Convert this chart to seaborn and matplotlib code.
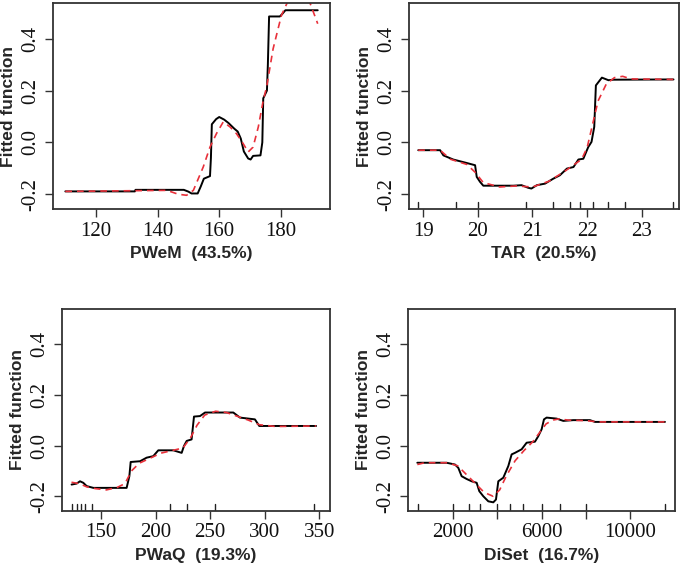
import matplotlib
matplotlib.use('Agg')
import matplotlib.pyplot as plt
import pandas as pd
import seaborn as sns

# Panel titles (variable and relative influence)
labels = ['PWeM  (43.5%)', 'TAR  (20.5%)', 'PWaQ  (19.3%)', 'DiSet  (16.7%)']

# PWeM
pwem_x = [110, 132.6, 132.8, 148.5, 150, 151, 153, 154, 155, 157, 157.3, 157.6, 159, 160, 161.6, 163,
          164.9, 166, 167, 168, 169.4, 170.2, 171, 173.4, 174, 174.3, 175.5, 175.8, 176.2, 179.7, 180.5,
          181.5, 192]
pwem_y = [-0.189, -0.189, -0.183, -0.183, -0.19, -0.197, -0.197, -0.17, -0.14, -0.13, -0.06, 0.07, 0.09,
          0.098, 0.088, 0.075, 0.053, 0.042, 0.015, -0.035, -0.062, -0.066, -0.052, -0.05, 0.0, 0.17, 0.2,
          0.3, 0.486, 0.486, 0.496, 0.51, 0.51]
pwem_sx = [110, 143, 146.7, 149.4, 151.6, 154.8, 157, 159.1, 161.3, 163.5, 165.6, 167.8, 169.4, 171,
           172.7, 174.3, 175.4, 177.5, 180.2, 182.9, 188.8, 192]
pwem_sy = [-0.189, -0.185, -0.2, -0.204, -0.185, -0.095, -0.018, 0.034, 0.079, 0.06, 0.034, -0.005,
           -0.037, -0.018, 0.06, 0.162, 0.214, 0.361, 0.49, 0.56, 0.56, 0.458]
pwem_rug = []

# TAR
tar_x = [18.91, 19.31, 19.37, 19.55, 19.79, 19.95, 19.98, 20.04, 20.1, 20.65, 20.8, 20.92, 20.98, 21.08,
         21.23, 21.38, 21.5, 21.63, 21.75, 21.84, 21.93, 22.02, 22.08, 22.13, 22.16, 22.27, 22.39, 22.48,
         23.58]
tar_y = [-0.03, -0.03, -0.05, -0.066, -0.079, -0.088, -0.133, -0.152, -0.167, -0.167, -0.165, -0.175,
         -0.178, -0.165, -0.159, -0.14, -0.127, -0.101, -0.095, -0.066, -0.063, -0.018, 0.002, 0.06, 0.22,
         0.25, 0.24, 0.242, 0.243]
tar_sx = [18.91, 19.31, 19.5, 19.8, 19.95, 20.1, 20.4, 20.7, 21.0, 21.3, 21.6, 21.9, 22.0, 22.1, 22.2,
          22.35, 22.5, 22.65, 22.8, 23.58]
tar_sy = [-0.03, -0.03, -0.065, -0.085, -0.115, -0.155, -0.172, -0.168, -0.172, -0.15, -0.11, -0.065,
          -0.02, 0.07, 0.16, 0.225, 0.25, 0.255, 0.245, 0.243]
tar_rug = [18.9, 19.6, 20.0, 20.89, 21.38, 21.69, 21.87, 22.1, 22.38, 22.69, 23.57]

# PWaQ
pwaq_x = [123.1, 127.7, 130.8, 133.8, 136.9, 143, 173.5, 176, 177.2, 185.8, 191.8, 197.9, 202.5, 216.3,
          223.9, 226, 228.5, 233, 235.2, 240.7, 245.3, 271.2, 277.3, 291, 295, 347]
pwaq_y = [-0.154, -0.15, -0.141, -0.147, -0.16, -0.167, -0.167, -0.121, -0.065, -0.062, -0.048, -0.042,
          -0.019, -0.019, -0.029, -0.002, 0.018, 0.024, 0.114, 0.116, 0.13, 0.13, 0.11, 0.103, 0.077, 0.077]
pwaq_sx = [123, 130, 137, 145, 155, 165, 172, 178, 185, 195, 205, 215, 225, 232, 238, 245, 255, 265,
           275, 285, 295, 310, 347]
pwaq_sy = [-0.145, -0.15, -0.163, -0.17, -0.175, -0.165, -0.15, -0.1, -0.07, -0.05, -0.03, -0.02, -0.01,
           0.03, 0.08, 0.12, 0.135, 0.13, 0.115, 0.1, 0.082, 0.075, 0.077]
pwaq_rug = [123.1, 127.6, 132.1, 135.1, 141.9, 213.5, 228.7, 254.8, 345.5]

# DiSet
diset_x = [370, 1698, 2075, 2226, 2377, 2604, 2830, 3057, 3177, 3358, 3585, 3811, 3932, 4038, 4264, 4491,
           4642, 4792, 5094, 5321, 5698, 5849, 6000, 6106, 6226, 6679, 6981, 7434, 8189, 8415, 11585]
diset_y = [-0.068, -0.068, -0.075, -0.088, -0.121, -0.132, -0.141, -0.147, -0.18, -0.2, -0.22, -0.224,
           -0.213, -0.141, -0.127, -0.081, -0.035, -0.029, -0.015, 0.011, 0.015, 0.037, 0.064, 0.103, 0.11,
           0.106, 0.097, 0.1, 0.1, 0.093, 0.093]
diset_sx = [370, 700, 1700, 2200, 2600, 3000, 3400, 3800, 4100, 4400, 4800, 5200, 5600, 5900, 6200, 6500,
            6800, 7200, 8000, 8600, 11585]
diset_sy = [-0.075, -0.068, -0.068, -0.08, -0.115, -0.15, -0.185, -0.2, -0.175, -0.12, -0.06, -0.02,
            0.015, 0.05, 0.085, 0.1, 0.105, 0.1, 0.098, 0.093, 0.093]
diset_rug = [412, 2000, 2704, 3229, 4000, 4577, 5176, 6000, 6824, 8000, 11573]

panels = [
    (pwem_x, pwem_y, pwem_sx, pwem_sy, pwem_rug, (106, 196), [120, 140, 160, 180], None),
    (tar_x, tar_y, tar_sx, tar_sy, tar_rug, (18.74, 23.68), [19, 20, 21, 22, 23], None),
    (pwaq_x, pwaq_y, pwaq_sx, pwaq_sy, pwaq_rug, (114.3, 359.8), [150, 200, 250, 300, 350], None),
    (diset_x, diset_y, diset_sx, diset_sy, diset_rug, (-65, 12040), [2000, 4000, 6000, 8000, 10000],
     ['2000', '', '6000', '', '10000']),
]

# axes boxes in figure fractions [left, bottom, width, height]
boxes = [
    [0.0774, 0.6294, 0.4044, 0.3653],
    [0.5970, 0.6294, 0.3942, 0.3653],
    [0.0905, 0.0945, 0.3913, 0.3576],
    [0.5952, 0.0945, 0.3902, 0.3576],
]

sns.set_style('ticks')
plt.rcParams['font.family'] = ['Liberation Serif', 'DejaVu Serif']

fig = plt.figure(figsize=(6.85, 5.64), dpi=100)

for (bx, by, sx, sy, rug, xlim, xt, xtl), box, lab in zip(panels, boxes, labels):
    ax = fig.add_axes(box)
    black = pd.DataFrame({'x': bx, 'y': by})
    red = pd.DataFrame({'x': sx, 'y': sy})
    sns.lineplot(data=black, x='x', y='y', ax=ax, color='black', linewidth=1.4,
                 estimator=None, sort=False)
    sns.lineplot(data=red, x='x', y='y', ax=ax, color='#e8303a', linewidth=1.2,
                 linestyle=(0, (4, 3)), estimator=None, sort=False)
    # rug marks drawn inward from the bottom axis
    for r in rug:
        ax.axvline(r, ymin=0, ymax=0.035, color='#222222', linewidth=1.0)
    ax.set_xlim(*xlim)
    ax.set_ylim(-0.257, 0.538)
    ax.set_xticks(xt)
    if xtl is not None:
        ax.set_xticklabels(xtl)
    ax.set_yticks([-0.2, 0.0, 0.2, 0.4])
    ax.set_yticklabels(['-0.2', '0.0', '0.2', '0.4'], rotation=90, va='center')
    ax.tick_params(axis='both', length=6, width=1.0, color='#333333', labelsize=15,
                   labelcolor='#111111')
    ax.tick_params(axis='x', pad=3)
    ax.tick_params(axis='y', pad=3)
    for s in ax.spines.values():
        s.set_visible(True)
        s.set_linewidth(1.3)
        s.set_color('#333333')
    ax.set_xlabel(lab, fontsize=12.5, fontweight='bold', family='Liberation Sans', labelpad=4)
    ax.set_ylabel('Fitted function', fontsize=12.5, fontweight='bold', family='Liberation Sans',
                  labelpad=4)

fig.savefig('out.png', dpi=100)
